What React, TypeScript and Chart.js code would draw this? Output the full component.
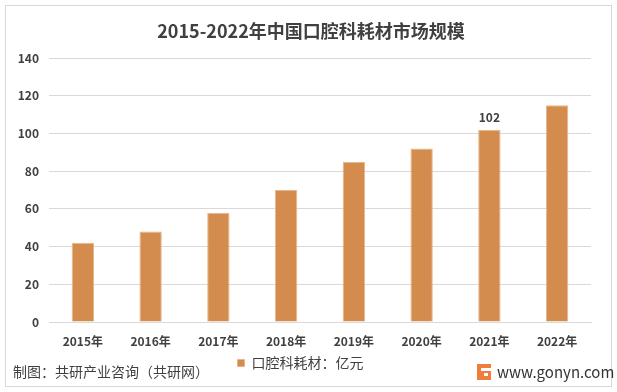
import React, { useEffect, useRef } from "react";
import { Chart, registerables } from "chart.js";

Chart.register(...registerables);

const TITLE = "2015-2022年中国口腔科耗材市场规模";
const CATEGORIES = ["2015年", "2016年", "2017年", "2018年", "2019年", "2020年", "2021年", "2022年"];
const SERIES_NAME = "口腔科耗材：亿元";
const VALUES = [42, 48, 58, 70, 85, 92, 102, 115];
const LABELED_INDEX = [6];
const Y_MIN = 0;
const Y_MAX = 140;
const Y_STEP = 20;
const SOURCE = "制图：共研产业咨询（共研网）";
const SITE = "www.gonyn.com";

const FONT = '"Noto Sans CJK SC", "Noto Sans", sans-serif';
const BAR = "#D38B4E";

export default function App() {
  const ref = useRef<HTMLCanvasElement | null>(null);
  useEffect(() => {
    document.body.style.margin = "0";
    const canvas = ref.current!;
    const deco = {
      id: "deco",
      beforeDraw(chart: any) {
        const ctx = chart.ctx;
        ctx.save();
        ctx.fillStyle = "#ffffff";
        ctx.fillRect(0, 0, chart.width, chart.height);
        ctx.strokeStyle = "#D9D9D9";
        ctx.lineWidth = 1;
        ctx.strokeRect(5.5, 5.5, 606, 381);
        ctx.fillStyle = "#404040";
        ctx.font = `bold 18px ${FONT}`;
        ctx.textAlign = "center";
        ctx.textBaseline = "middle";
        ctx.fillText(TITLE, 311, 31);
        ctx.restore();
      },
      afterDraw(chart: any) {
        const ctx = chart.ctx;
        ctx.save();
        const meta = chart.getDatasetMeta(0);
        ctx.fillStyle = "#404040";
        ctx.font = `bold 12px ${FONT}`;
        ctx.textAlign = "center";
        ctx.textBaseline = "bottom";
        LABELED_INDEX.forEach((i) => {
          const el = meta.data[i];
          ctx.fillText(String(VALUES[i]), el.x, el.y - 6);
        });
        ctx.fillStyle = "#404040";
        ctx.font = `14px ${FONT}`;
        ctx.textAlign = "left";
        ctx.textBaseline = "middle";
        ctx.fillText(SOURCE, 13, 372);
        // logo
        ctx.fillStyle = "#F07D3C";
        ctx.fillRect(477, 364, 14, 16);
        ctx.fillStyle = "#ffffff";
        ctx.fillRect(481, 368, 10, 3);
        ctx.fillRect(484, 373, 4, 3);
        ctx.fillStyle = "#333333";
        ctx.font = `15px ${FONT}`;
        ctx.fillText(SITE, 497, 372);
        ctx.restore();
      },
    };
    const chart = new Chart(canvas, {
      type: "bar",
      data: {
        labels: CATEGORIES,
        datasets: [
          {
            label: SERIES_NAME,
            data: VALUES,
            backgroundColor: BAR,
            borderColor: "#E8B68A",
            borderWidth: 1,
            categoryPercentage: 1,
            barPercentage: 0.33,
          },
        ],
      },
      options: {
        animation: false,
        responsive: false,
        maintainAspectRatio: false,
        layout: { padding: { left: 10, right: 26, top: 58, bottom: 12 } },
        plugins: {
          legend: {
            position: "bottom",
            labels: {
              boxWidth: 7,
              boxHeight: 7,
              padding: 4,
              color: "#404040",
              font: { size: 14, family: FONT },
            },
          },
          tooltip: { enabled: false },
        },
        scales: {
          x: {
            grid: { display: false },
            border: { color: "#D9D9D9" },
            ticks: { color: "#404040", font: { size: 12, family: FONT, weight: "bold" }, padding: 4 },
            afterFit(s: any) {
              s.height = 30;
            },
          },
          y: {
            min: Y_MIN,
            max: Y_MAX,
            grid: { color: "#D9D9D9", drawTicks: false },
            border: { display: false },
            ticks: { stepSize: Y_STEP, color: "#404040", font: { size: 12, family: FONT, weight: "bold" }, padding: 10 },
            afterFit(s: any) {
              s.width = 39;
            },
          },
        },
      },
      plugins: [deco],
    });
    return () => chart.destroy();
  }, []);
  return (
    <div style={{ position: "fixed", left: 0, top: 0, width: 617, height: 392 }}>
      <canvas ref={ref} width={617} height={392} style={{ width: 617, height: 392 }} />
    </div>
  );
}
